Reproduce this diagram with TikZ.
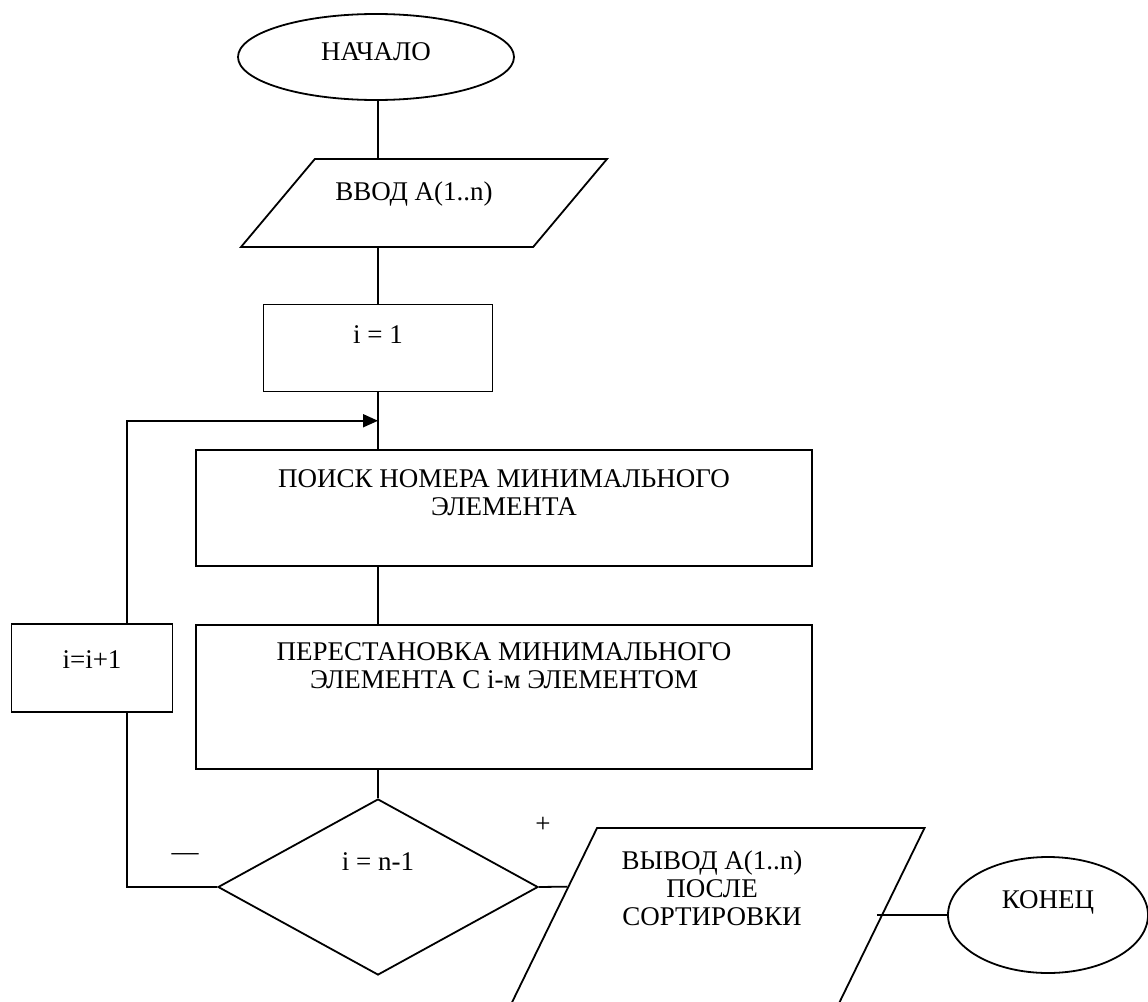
\documentclass[tikz,border=0pt]{standalone}
\usepackage{fontspec}
\setmainfont{Liberation Serif}
\usetikzlibrary{shapes.geometric}
\usetikzlibrary{arrows.meta}
\usetikzlibrary{calc}

\begin{document}
\begin{tikzpicture}[x=1pt,y=-1pt,line width=1.8pt,font=\fontsize{27}{28}\selectfont]
\tikzstyle{terminal}=[ellipse,draw,inner sep=0pt]
\tikzstyle{block}=[rectangle,draw,inner sep=0pt,align=center]
\tikzstyle{io}=[trapezium,draw,inner sep=0pt,align=center,
trapezium stretches body]
\tikzstyle{decision}=[diamond,draw,inner sep=0pt]

\useasboundingbox (0,0) rectangle (1148,1001);
\clip (0,0) rectangle (1148,1001);

\node[terminal,minimum width=276pt,minimum height=86pt,
text height=20pt,text depth=12.8pt] (start) at (376,57) {НАЧАЛО};
\node[io,trapezium left angle=50,trapezium right angle=130,
minimum width=366pt,minimum height=88pt,
text height=41pt,text depth=47pt] (read array) at (424,203) {ВВОД А(1..n)\hspace{20pt}};
\node[block,minimum width=229pt,minimum height=87pt,
text height=18pt,text depth=27.8pt] (set i) at (378,348) {i = 1};
\node[block,minimum width=616pt,minimum height=116pt,
text height=48pt,text depth=32.8pt] (find min) at (504,508)
{ПОИСК НОМЕРА МИНИМАЛЬНОГО\\ЭЛЕМЕНТА};
\node[block,minimum width=616pt,minimum height=144pt,
text height=48pt,text depth=64.8pt] (swap min) [below of=find min,node distance=189pt]
{ПЕРЕСТАНОВКА МИНИМАЛЬНОГО\\ЭЛЕМЕНТА С i-м ЭЛЕМЕНТОМ};
\node[decision,minimum width=320pt,minimum height=176pt,
text height=18pt,text depth=50.8pt] (check end) at (378,887) {i = n-1};
\node[block,minimum width=161pt,minimum height=88pt,
text height=18pt,text depth=17pt] (next i) at (92,668) {i=i+1};
\node[io,trapezium left angle=64,trapezium right angle=116,
minimum width=425pt,minimum height=200pt,
text height=97.6pt,text depth=102.4pt] (write array) at (712,928)
{ВЫВОД А(1..n)\\ПОСЛЕ\\СОРТИРОВКИ};
\node[terminal,minimum width=200pt,minimum height=116pt,
text height=18pt,text depth=30.8pt] (stop) at (1048,915) {КОНЕЦ\hspace{14pt}};

\node (no mark) at (185,857) {—};
\node (yes mark) at (543,825) {+};

\coordinate (loop in) at ($(set i.south)!0.5!(set i.south |- find min.north)$);

\draw (start.south -| set i.north) -- (read array.north -| set i.north);
\draw (read array.south -| set i.north) -- (set i.north);
\draw (set i.south) -- (set i.south |- find min.north);
\draw (find min.south -| set i.south) -- (swap min.north -| set i.south);
\draw (swap min.south -| check end.north) -- (check end.north);
\draw (check end.west) -| ([xshift=35pt]next i.south);
\draw [-{Triangle[length=15pt,width=13pt]}] ([xshift=35pt]next i.north) |- (loop in);
\draw (check end.east) -- ($(write array.top left corner)!0.295!(write array.bottom left corner)$);
\draw (stop.west -| write array.east) -- (stop.west);
\end{tikzpicture}
\end{document}
